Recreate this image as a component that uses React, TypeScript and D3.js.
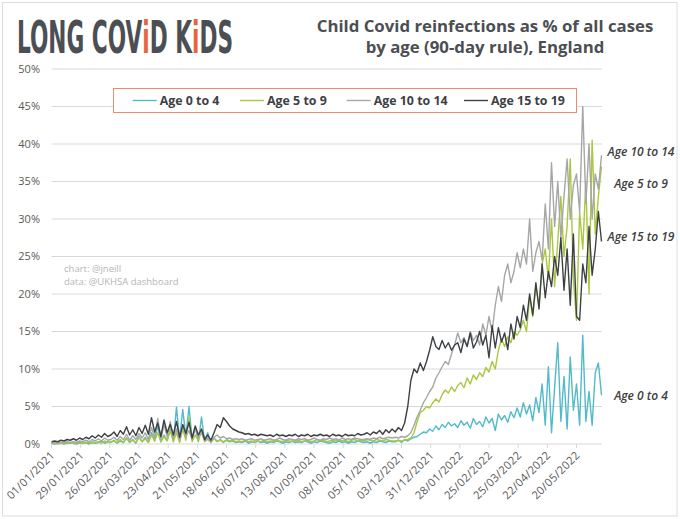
import React, { useLayoutEffect, useRef, useState } from 'react';
import * as d3 from 'd3';

// ---------- DATA (one value every 3 days from 01/01/2021) ----------
const startDate = Date.UTC(2021, 0, 1);
const stepDays = 3;
const lastDay = 528;

const age0to4 = [
  0.1,0.0,0.1,0.1,0.0,0.1,0.2,0.1,0.0,0.2,
  0.1,0.2,0.0,0.3,0.1,0.2,0.4,0.1,0.3,0.2,
  0.5,0.1,0.4,0.2,0.8,0.2,0.6,0.1,1.0,0.3,
  0.9,0.2,1.5,0.4,2.5,0.3,1.2,0.5,2.0,0.4,
  4.9,0.5,4.6,1.0,5.0,0.6,2.2,0.3,3.6,0.4,
  1.5,0.2,0.8,0.3,0.6,0.2,0.5,0.3,0.4,0.2,
  0.3,0.2,0.4,0.1,0.3,0.2,0.4,0.2,0.3,0.1,
  0.3,0.2,0.4,0.3,0.1,0.3,0.2,0.4,0.2,0.3,
  0.2,0.4,0.3,0.1,0.3,0.2,0.4,0.3,0.2,0.1,
  0.3,0.2,0.4,0.2,0.3,0.1,0.3,0.2,0.4,0.3,
  0.2,0.3,0.1,0.3,0.2,0.4,0.3,0.2,0.4,0.3,
  0.3,0.5,0.2,0.6,0.4,0.7,0.9,1.0,1.3,1.6,
  1.5,2.0,1.7,2.4,1.9,2.6,2.2,2.9,2.4,2.7,
  2.2,3.1,2.5,2.9,2.1,3.4,2.6,3.0,2.3,3.6,
  2.8,3.4,1.8,4.0,3.2,3.8,2.9,4.3,3.5,4.8,
  3.6,5.5,4.0,5.2,3.1,6.2,4.2,8.0,2.5,10.3,
  1.5,7.5,13.5,3.0,9.0,2.0,11.6,4.5,8.0,2.5,
  14.5,3.0,7.0,2.5,9.5,10.8,6.5,
];

const age5to9 = [
  0.1,0.1,0.0,0.1,0.1,0.2,0.1,0.1,0.2,0.1,
  0.2,0.1,0.3,0.1,0.2,0.3,0.1,0.4,0.2,0.3,
  0.4,0.2,0.6,0.2,0.8,0.3,0.5,0.2,0.9,0.3,
  0.7,0.2,1.2,0.4,1.5,0.3,1.0,0.4,1.8,0.3,
  1.5,0.2,2.0,0.5,3.5,0.3,1.2,0.4,2.0,0.3,
  0.6,0.2,0.8,0.4,0.5,0.3,0.6,0.4,0.5,0.3,
  0.4,0.3,0.5,0.3,0.4,0.2,0.4,0.3,0.5,0.3,
  0.4,0.3,0.5,0.4,0.3,0.5,0.4,0.3,0.4,0.5,
  0.3,0.4,0.5,0.3,0.4,0.6,0.4,0.5,0.3,0.4,
  0.5,0.4,0.6,0.4,0.5,0.3,0.5,0.6,0.4,0.5,
  0.4,0.6,0.5,0.4,0.6,0.5,0.4,0.6,0.5,0.4,
  0.4,0.5,0.4,0.5,0.6,0.8,1.5,3.0,4.2,4.5,
  5.0,4.8,5.5,6.0,5.6,6.6,7.2,6.8,7.6,7.0,
  7.8,8.2,7.5,8.8,8.0,9.2,8.6,9.5,9.0,10.2,
  9.6,11.0,10.0,12.5,14.0,13.0,14.3,13.5,15.0,14.5,
  15.2,16.5,15.0,19.6,17.0,21.0,18.5,24.0,26.0,22.0,
  30.0,21.0,27.0,33.0,25.0,29.0,38.0,22.0,16.5,31.0,
  26.0,35.0,20.0,40.5,28.0,33.0,37.0,
];

const age10to14 = [
  0.1,0.2,0.1,0.2,0.2,0.3,0.2,0.3,0.2,0.4,
  0.3,0.5,0.3,0.6,0.4,0.7,0.4,0.8,0.5,0.6,
  0.9,0.5,1.0,0.6,1.3,0.5,1.1,0.6,1.4,0.8,
  1.5,0.6,2.2,0.9,3.4,0.7,2.6,1.0,3.0,0.8,
  2.0,0.5,2.5,1.0,1.8,0.6,2.2,0.9,1.5,0.4,
  0.8,0.3,0.9,1.2,0.8,1.0,0.7,0.8,0.6,0.7,
  0.6,0.7,0.5,0.6,0.7,0.5,0.6,0.7,0.5,0.6,
  0.7,0.5,0.6,0.8,0.6,0.5,0.7,0.6,0.5,0.7,
  0.6,0.7,0.5,0.6,0.8,0.6,0.5,0.7,0.6,0.8,
  0.6,0.7,0.5,0.8,0.6,0.7,0.6,0.8,0.7,0.6,
  0.6,0.7,0.6,0.8,0.7,0.9,0.7,0.8,0.9,0.8,
  0.9,0.8,1.0,0.9,1.1,1.5,2.5,3.6,4.5,5.5,
  6.2,7.0,7.6,8.8,9.5,10.3,11.0,10.6,12.0,13.2,
  14.8,13.5,14.2,13.0,15.0,13.8,14.5,13.2,16.0,14.5,
  17.0,15.0,18.5,21.0,19.0,22.5,24.0,21.5,23.0,25.5,
  23.5,26.0,24.0,30.0,23.0,25.5,27.0,24.5,32.0,26.0,
  37.5,29.0,35.0,27.5,33.0,38.0,30.0,34.5,36.0,31.0,
  45.0,32.0,40.0,30.0,36.0,34.0,38.5,
];

const age15to19 = [
  0.3,0.4,0.3,0.5,0.4,0.6,0.5,0.7,0.5,0.8,
  0.6,0.9,0.7,1.1,0.8,1.2,0.9,1.4,1.0,1.2,
  1.6,1.0,1.8,1.3,2.3,1.2,1.9,1.1,2.2,1.4,
  2.5,1.3,3.5,1.6,2.8,1.0,3.2,1.5,2.6,1.2,
  3.0,0.9,2.6,1.4,2.9,0.8,2.4,1.2,2.0,0.6,
  1.2,0.5,1.5,2.6,2.2,3.5,3.0,2.4,2.0,1.8,
  1.6,1.5,1.3,1.4,1.2,1.3,1.1,1.3,1.2,1.1,
  1.2,1.0,1.3,1.1,1.2,1.0,1.2,1.1,1.3,1.0,
  1.2,1.1,1.3,1.0,1.2,1.1,1.3,1.1,1.2,1.0,
  1.3,1.1,1.2,1.0,1.3,1.1,1.2,1.1,1.4,1.2,
  1.3,1.5,1.2,1.6,1.4,1.8,1.3,1.9,1.5,2.0,
  1.6,2.2,1.8,2.8,5.0,8.5,10.0,9.5,10.8,9.8,
  11.0,12.5,14.3,13.0,12.6,13.8,12.8,13.5,12.5,13.2,
  13.5,12.2,14.0,13.0,14.8,12.8,13.6,15.0,13.2,14.5,
  11.5,15.8,12.8,15.5,13.6,14.8,12.6,16.0,14.0,17.0,
  15.5,18.5,16.5,20.0,17.2,21.5,18.0,24.0,19.5,23.0,
  21.0,25.0,22.5,27.5,20.5,26.0,18.5,28.0,17.0,16.5,
  24.0,21.5,29.0,22.5,26.0,31.0,27.0,
];

const seriesNames = ['Age 0 to 4', 'Age 5 to 9', 'Age 10 to 14', 'Age 15 to 19'];
const seriesValues = [age0to4, age5to9, age10to14, age15to19];
const seriesColors = ['#52bac9', '#a9c83f', '#a6a6a6', '#3d4146'];
const endLabelValues = [6.4, 34.7, 39.0, 27.6];

const yTicks = [0, 5, 10, 15, 20, 25, 30, 35, 40, 45, 50];
const xTickStepDays = 28;
const xTickCount = 19;

const logoParts = ['LONG COV', 'i', 'D K', 'i', 'DS'];
const titleLines = ['Child Covid reinfections as % of all cases', 'by age (90-day rule), England'];
const creditLines = ['chart: @jneill', 'data: @UKHSA dashboard'];

export default function App() {
  const W = 680, H = 519;
  const start = new Date(startDate);
  const x = d3.scaleUtc().domain([start, d3.utcDay.offset(start, lastDay)]).range([51.5, 601.5]);
  const y = d3.scaleLinear().domain([0, 50]).range([444, 69]);
  const dates = age0to4.map((_, i) => d3.utcDay.offset(start, i * stepDays));
  const line = d3.line<number>().x((_, i) => x(dates[i])).y(v => y(v));
  const fmt = d3.utcFormat('%d/%m/%Y');
  const xTicks = d3.range(xTickCount).map(k => d3.utcDay.offset(start, k * xTickStepDays));
  const font = "'Open Sans', 'Noto Sans', sans-serif";

  const legendLineX = [132.7, 240, 346.7, 464];

  const logoRef = useRef<SVGTextElement>(null);
  const [logoScale, setLogoScale] = useState(0.6);
  useLayoutEffect(() => {
    if (logoRef.current) {
      const w = logoRef.current.getBBox().width;
      if (w > 0) setLogoScale(216 / w);
    }
  }, []);

  return (
    <svg width={W} height={H} style={{ position: 'absolute', left: 0, top: 0, background: '#fff' }} fontFamily={font}>
      <rect x={0} y={0} width={W} height={H} fill="#fff" />
      <rect x={2.5} y={2.5} width={674.5} height={513.5} fill="none" stroke="#dcdcdc" strokeWidth={1} />

      {/* Logo */}
      <g transform={`translate(17,52.5) scale(${logoScale},1)`}>
        <text ref={logoRef} x={0} y={0} fontFamily="'DejaVu Sans Condensed', 'DejaVu Sans', sans-serif" fontWeight="bold"
          fontSize={44} fill="#4b4e52">
          {logoParts.map((p, i) => (
            <tspan key={i} fill={p === 'i' ? '#e8643c' : '#4b4e52'}>{p}</tspan>
          ))}
        </text>
      </g>

      {/* Title */}
      {titleLines.map((t, i) => (
        <text key={i} x={485} y={31.5 + i * 21} textAnchor="middle" fontSize={16.8} fontWeight={700} fill="#4b4e52">{t}</text>
      ))}

      {/* Gridlines */}
      {yTicks.map(t => (
        <line key={t} x1={51.5} x2={602} y1={y(t)} y2={y(t)} stroke="#d9d9d9" strokeWidth={1} />
      ))}
      {yTicks.map(t => (
        <text key={'l' + t} x={40} y={y(t)} dy="0.35em" textAnchor="end" fontSize={11} fill="#595959">{t + '%'}</text>
      ))}

      {/* X axis ticks and labels */}
      {xTicks.map((d, k) => (
        <g key={k}>
          <line x1={x(d)} x2={x(d)} y1={444} y2={448} stroke="#d9d9d9" />
          <text transform={`translate(${x(d) + 4},${456}) rotate(-45)`} textAnchor="end" fontSize={11.2}
            letterSpacing={0.3} fill="#595959">{fmt(d)}</text>
        </g>
      ))}

      {/* Credits */}
      {creditLines.map((t, i) => (
        <text key={i} x={64} y={272 + i * 12.5} fontSize={9.5} fill="#b5b5b5">{t}</text>
      ))}

      {/* Series */}
      {seriesValues.map((vals, s) => (
        <path key={s} d={line(vals) || ''} fill="none" stroke={seriesColors[s]} strokeWidth={1.4} strokeLinejoin="round" />
      ))}

      {/* End labels */}
      {seriesNames.map((n, s) => (
        <text key={s} x={641} y={y(endLabelValues[s])} dy="0.35em" textAnchor="middle" fontSize={12}
          fontStyle="italic" fontWeight={600} fill="#404040">{n}</text>
      ))}

      {/* Legend */}
      <rect x={113.5} y={88.5} width={463} height={24} fill="#fff" stroke="#f08a6c" strokeWidth={1} />
      {seriesNames.map((n, s) => (
        <g key={s}>
          <line x1={legendLineX[s]} x2={legendLineX[s] + 24} y1={100.5} y2={100.5} stroke={seriesColors[s]} strokeWidth={1.4} />
          <text x={legendLineX[s] + 27} y={100.5} dy="0.35em" fontSize={12.4} fontWeight={700} fill="#3d4146">{n}</text>
        </g>
      ))}
    </svg>
  );
}
